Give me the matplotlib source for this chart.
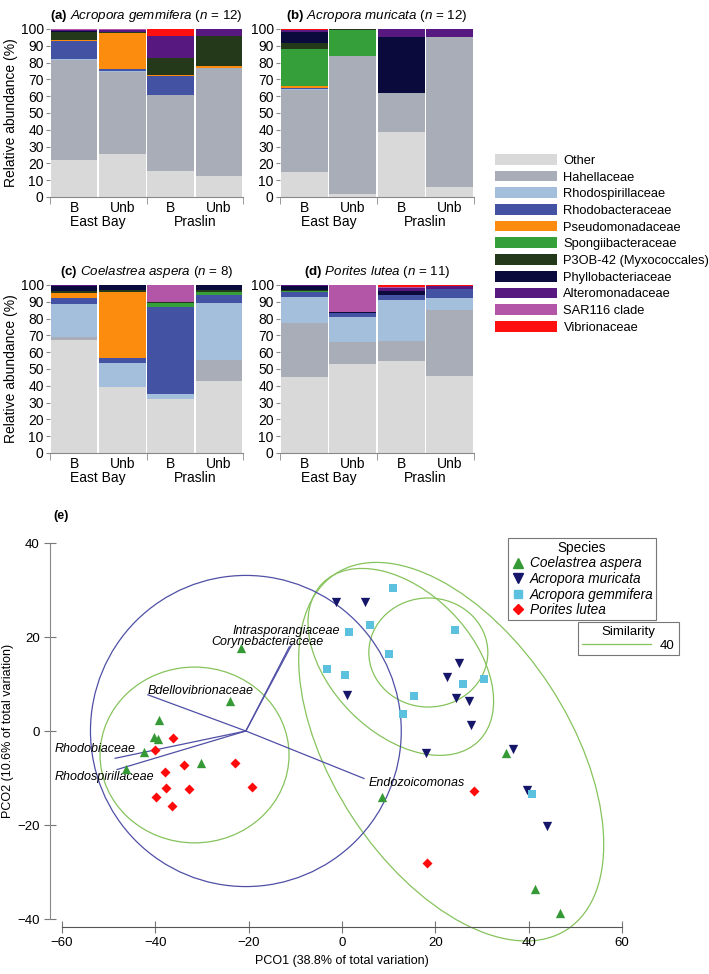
import numpy as np
import matplotlib.pyplot as plt
from matplotlib.patches import Ellipse, Patch
from matplotlib.lines import Line2D

plt.rcParams['font.family'] = ['Liberation Sans', 'DejaVu Sans']
plt.rcParams['mathtext.fontset'] = 'custom'
plt.rcParams['mathtext.rm'] = 'Liberation Sans'
plt.rcParams['mathtext.it'] = 'Liberation Sans:italic'
plt.rcParams['mathtext.bf'] = 'Liberation Sans:bold'

# ---- bar data (panels a, b, c, d; bars: East Bay B, East Bay Unb, Praslin B, Praslin Unb)
families = ['Other', 'Hahellaceae', 'Rhodospirillaceae', 'Rhodobacteraceae', 'Pseudomonadaceae',
            'Spongiibacteraceae', 'P3OB-42 (Myxococcales)', 'Phyllobacteriaceae',
            'Alteromonadaceae', 'SAR116 clade', 'Vibrionaceae']
fam_colors = ['#d9d9d9', '#a9adb8', '#a3bfdc', '#4452a3', '#fb8c0e', '#35a03a',
              '#24391a', '#0b0a3d', '#57187f', '#b456a8', '#ff1010']

other = [22, 25.5, 15.5, 12.5, 15, 2, 38.5, 6, 67.3, 39, 32, 43, 45.4, 53, 54.8, 46]
hahellaceae = [59.5, 49, 45, 64, 48.5, 82, 23.5, 89, 1.9, 0, 0, 12.4, 31.8, 12.9, 11.9, 39]
rhodospirillaceae = [0.5, 0.5, 0.5, 0.5, 0.5, 0, 0, 0, 19.5, 14.8, 3.1, 34.1, 15.8, 14.9, 24.3, 7.5]
rhodobacteraceae = [11, 1, 11, 0, 1, 0, 0, 0, 3.6, 2.9, 52, 4.5, 3, 2.7, 3, 5.3]
pseudomonadaceae = [0.5, 21.5, 0.5, 1, 1, 0, 0, 0, 2.7, 39.3, 0, 0, 0, 0, 0, 0]
spongiibacteraceae = [0, 0, 0, 0, 22, 15.5, 0, 0, 0.5, 0, 2.2, 2, 0.5, 0, 0, 0]
p3ob42 = [4.5, 0.7, 10, 18, 3.5, 0.3, 0, 0.5, 1, 1, 0.4, 1, 0.5, 0, 0, 0]
phyllobacteriaceae = [1, 0.3, 0.5, 0, 6.5, 0, 33, 0, 3, 3, 0, 3, 2.5, 0.5, 2.4, 0]
alteromonadaceae = [0.5, 1, 13, 4, 1.5, 0, 5, 4.5, 0.3, 0, 0, 0, 0.3, 0, 2.1, 1.7]
sar116 = [0.3, 0.3, 0, 0, 0.2, 0, 0, 0, 0, 0, 10.3, 0, 0, 16, 0.5, 0]
vibrionaceae = [0.2, 0.2, 4, 0, 0.3, 0.2, 0, 0, 0.2, 0, 0, 0, 0.2, 0, 1, 0.5]

fam_values = [other, hahellaceae, rhodospirillaceae, rhodobacteraceae, pseudomonadaceae,
              spongiibacteraceae, p3ob42, phyllobacteriaceae, alteromonadaceae, sar116, vibrionaceae]

panel_titles = [r'$\mathbf{(a)}$ $\mathit{Acropora\ gemmifera}$ ($\mathit{n}$ = 12)',
                r'$\mathbf{(b)}$ $\mathit{Acropora\ muricata}$ ($\mathit{n}$ = 12)',
                r'$\mathbf{(c)}$ $\mathit{Coelastrea\ aspera}$ ($\mathit{n}$ = 8)',
                r'$\mathbf{(d)}$ $\mathit{Porites\ lutea}$ ($\mathit{n}$ = 11)']
bar_labels = ['B', 'Unb', 'B', 'Unb']
sites = ['East Bay', 'Praslin']

# ---- PCO data
coel_x = [-21.6, -24.0, -39.2, -40.3, -39.4, -42.5, -46.2, -30.2, 8.6, 35.1, 41.4, 46.7]
coel_y = [17.7, 6.4, 2.3, -1.3, -1.7, -4.4, -8.1, -6.8, -14.0, -4.7, -33.6, -38.7]
mur_x = [-1.3, 4.9, 1.1, 25.0, 22.5, 24.4, 27.2, 27.6, 18.0, 36.6, 39.6, 43.9]
mur_y = [27.4, 27.4, 7.7, 14.5, 11.5, 7.0, 6.4, 1.3, -4.7, -3.9, -12.6, -20.2]
gem_x = [10.9, 6.0, 1.5, 10.0, -3.2, 0.6, 24.2, 30.4, 25.9, 15.4, 13.1, 40.7]
gem_y = [30.4, 22.6, 21.1, 16.4, 13.2, 11.9, 21.5, 11.1, 10.0, 7.4, 3.6, -13.4]
por_x = [-36.2, -40.0, -33.8, -38.0, -23.0, -37.7, -32.8, -19.2, -39.9, -36.4, 28.2, 18.3]
por_y = [-1.5, -4.0, -7.2, -8.7, -6.8, -12.1, -12.4, -11.9, -14.0, -16.0, -12.8, -28.1]

vec_origin = (-20.6, 0.0)
vec_names = ['Intrasporangiaceae', 'Corynebacteriaceae', 'Bdellovibrionaceae',
             'Rhodobiaceae', 'Rhodospirillaceae', 'Endozoicomonas']
vec_x = [-10.7, -11.3, -41.6, -48.6, -48.2, 4.7]
vec_y = [18.5, 17.9, 7.7, -5.8, -8.2, -10.1]

fig = plt.figure(figsize=(7.09, 9.74), dpi=100)

W, H = 709.0, 974.0
def px_axes(x0, y0, x1, y1):
    return fig.add_axes([x0 / W, 1 - y1 / H, (x1 - x0) / W, (y1 - y0) / H])

fs = 10
boxes = [(50, 29, 243, 197), (280, 29, 474, 197), (50, 285, 243, 453), (280, 285, 474, 453)]
x = np.arange(4)
for p in range(4):
    ax = px_axes(*boxes[p])
    bottom = np.zeros(4)
    for vals, c in zip(fam_values, fam_colors):
        v = np.array(vals[p * 4:(p + 1) * 4], dtype=float)
        ax.bar(x, v, bottom=bottom, width=0.96, color=c, edgecolor='none')
        bottom += v
    ax.set_xlim(-0.5, 3.5)
    ax.set_ylim(0, 100)
    ax.set_yticks(range(0, 101, 10))
    ax.tick_params(axis='y', length=3, color='#888888', labelsize=fs, pad=1.5)
    ax.set_xticks(x)
    ax.set_xticklabels(bar_labels)
    ax.set_xticks([-0.5, 1.5, 3.5], minor=True)
    ax.tick_params(axis='x', which='major', length=0, labelsize=fs, pad=3)
    ax.tick_params(axis='x', which='minor', length=5, color='#888888')
    for s in ['top', 'right', 'left']:
        ax.spines[s].set_visible(False)
    ax.spines['bottom'].set_color('#888888')
    ax.spines['bottom'].set_linewidth(0.8)
    for i, site in enumerate(sites):
        ax.text(0.5 + 2 * i, -0.15, site, transform=ax.get_xaxis_transform(),
                ha='center', va='center', fontsize=fs)
    ax.set_title(panel_titles[p], fontsize=9.6, pad=7)
    if p % 2 == 0:
        ax.set_ylabel('Relative abundance (%)', fontsize=fs, labelpad=2)

handles = [Patch(facecolor=c, edgecolor='none') for c in fam_colors]
fig.legend(handles, families, loc='upper left', bbox_to_anchor=(495 / W, 1 - 154 / H),
           frameon=False, fontsize=9.3, handlelength=4.8, handleheight=0.9,
           labelspacing=0.3, handletextpad=0.5, borderaxespad=0, borderpad=0)

# ---- panel (e)
ax = px_axes(62, 543, 622, 919)
ax.set_xlim(-60, 60)
ax.set_ylim(-40, 40)

green_line = '#86c35c'
blue_line = '#4f4fa6'
ell_specs = [((-31.6, -5.1), 40.5, 37.4, 0, green_line),
             ((18.5, 16.7), 25.5, 23.2, 0, green_line),
             ((12.6, 14.7), 47.4, 30.3, -45, green_line),
             ((23.4, -4.4), 90.5, 50.7, -56.6, green_line),
             (vec_origin, 66.6, 66.2, 0, blue_line)]
for (c, w, h, a, col) in ell_specs:
    ax.add_patch(Ellipse(c, w, h, angle=a, fill=False, edgecolor=col, lw=0.9, clip_on=False))

label_pos = [(-0.4, 21.3, 'right'), (-3.9, 19.0, 'right'), (-41.6, 8.6, 'left'),
             (-61.5, -3.8, 'left'), (-61.5, -9.7, 'left'), (5.8, -11.0, 'left')]
for name, vx, vy, (lx, ly, ha) in zip(vec_names, vec_x, vec_y, label_pos):
    ax.plot([vec_origin[0], vx], [vec_origin[1], vy], color=blue_line, lw=0.9)
    ax.text(lx, ly, name, ha=ha, va='center', fontsize=9, style='italic')

ax.scatter(coel_x, coel_y, marker='^', s=45, color='#359a35', zorder=3, linewidths=0)
ax.scatter(mur_x, mur_y, marker='v', s=45, color='#15156a', zorder=3, linewidths=0)
ax.scatter(gem_x, gem_y, marker='s', s=32, color='#5bc1de', zorder=3, linewidths=0)
ax.scatter(por_x, por_y, marker='D', s=26, color='#ff0a0a', zorder=3, linewidths=0)

for s in ['top', 'right']:
    ax.spines[s].set_visible(False)
ax.spines['left'].set_position(('outward', 8.6))
ax.spines['bottom'].set_position(('outward', 5.8))
ax.spines['left'].set_color('#888888')
ax.spines['bottom'].set_color('#555555')
ax.set_xticks([-60, -40, -20, 0, 20, 40, 60])
ax.set_yticks([-40, -20, 0, 20, 40])
ax.set_xticklabels(['\u221260', '\u221240', '\u221220', '0', '20', '40', '60'])
ax.set_yticklabels(['\u221240', '\u221220', '0', '20', '40'])
ax.tick_params(direction='inout', length=8, color='#777777', labelsize=9.5)
ax.set_xlabel('PCO1 (38.8% of total variation)', fontsize=9, labelpad=4)
ax.set_ylabel('PCO2 (10.6% of total variation)', fontsize=9, labelpad=2)
fig.text(53 / W, 1 - 516 / H, '(e)', fontsize=9, fontweight='bold', va='center')

sp_handles = [Line2D([], [], marker='^', ls='none', color='#359a35', markersize=7.5),
              Line2D([], [], marker='v', ls='none', color='#15156a', markersize=7.5),
              Line2D([], [], marker='s', ls='none', color='#5bc1de', markersize=6),
              Line2D([], [], marker='D', ls='none', color='#ff0a0a', markersize=5.5)]
sp_labels = ['Coelastrea aspera', 'Acropora muricata', 'Acropora gemmifera', 'Porites lutea']
leg1 = fig.legend(sp_handles, sp_labels, title='Species', loc='upper left',
                  bbox_to_anchor=(508 / W, 1 - 538 / H), title_fontsize=9.8,
                  prop={'style': 'italic', 'size': 9.8}, fancybox=False, edgecolor='#555555',
                  handlelength=1.0, handletextpad=0.4, labelspacing=0.12, borderpad=0.2,
                  borderaxespad=0)
leg1.get_frame().set_linewidth(0.8)
leg2 = fig.legend([Line2D([], [], color=green_line, lw=0.9)], ['40'], title='Similarity',
                  loc='upper left', bbox_to_anchor=(578 / W, 1 - 622 / H), fontsize=9.5,
                  title_fontsize=9.5, fancybox=False, edgecolor='#555555', handlelength=5.2,
                  borderpad=0.3, borderaxespad=0, labelspacing=0.1, handletextpad=0.7)
leg2.get_frame().set_linewidth(0.8)

fig.savefig('out.png', dpi=100)
